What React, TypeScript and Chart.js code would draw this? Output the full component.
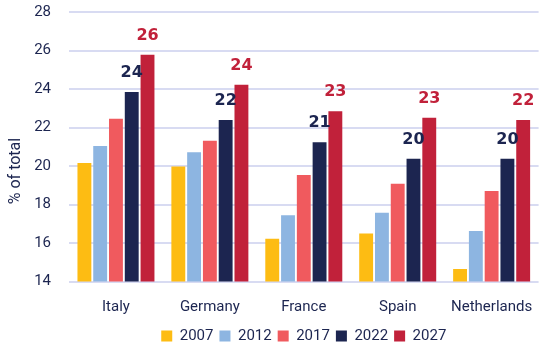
import React, { useEffect, useRef } from "react";
import { Chart, registerables } from "chart.js";

Chart.register(...registerables);

const categories = ["Italy", "Germany", "France", "Spain", "Netherlands"];
const years = ["2007", "2012", "2017", "2022", "2027"];
const values2007 = [20.16, 19.98, 16.22, 16.5, 14.65];
const values2012 = [21.04, 20.71, 17.44, 17.57, 16.62];
const values2017 = [22.46, 21.31, 19.53, 19.08, 18.7];
const values2022 = [23.84, 22.39, 21.23, 20.38, 20.38];
const values2027 = [25.78, 24.22, 22.84, 22.51, 22.39];
const labels2022 = ["24", "22", "21", "20", "20"];
const labels2027 = ["26", "24", "23", "23", "22"];
const colors = ["#FDBC13", "#8DB5E1", "#F05A5E", "#1C2550", "#C1213A"];
const NAVY = "#1C2550";
const yTitle = "% of total";

const barLabelPlugin = {
  id: "barLabels",
  afterDatasetsDraw(chart: any) {
    const ctx = chart.ctx;
    const sets: [number, string[], string][] = [
      [3, labels2022, NAVY],
      [4, labels2027, "#C1213A"],
    ];
    ctx.save();
    ctx.font = "bold 16px 'DejaVu Sans'";
    ctx.textAlign = "center";
    ctx.textBaseline = "middle";
    for (const [di, labs, col] of sets) {
      const meta = chart.getDatasetMeta(di);
      ctx.fillStyle = col;
      meta.data.forEach((bar: any, i: number) => {
        ctx.fillText(labs[i], bar.x, bar.y - 19);
      });
    }
    ctx.restore();
  },
};

const yTitlePlugin = {
  id: "yTitle",
  afterDraw(chart: any) {
    const ctx = chart.ctx;
    ctx.save();
    ctx.font = "16px Roboto";
    ctx.fillStyle = NAVY;
    ctx.textAlign = "center";
    ctx.textBaseline = "middle";
    ctx.translate(16, 171);
    ctx.rotate(-Math.PI / 2);
    ctx.fillText(yTitle, 0, 0);
    ctx.restore();
  },
};

export default function App() {
  const ref = useRef<HTMLCanvasElement>(null);
  useEffect(() => {
    document.body.style.margin = "0";
    const series = [values2007, values2012, values2017, values2022, values2027];
    const chart = new Chart(ref.current!, {
      type: "bar",
      data: {
        labels: categories,
        datasets: series.map((d, i) => ({
          label: years[i],
          data: d,
          backgroundColor: colors[i],
          borderWidth: 0,
          categoryPercentage: 0.84,
          barPercentage: 0.88,
        })),
      },
      options: {
        animation: false,
        responsive: false,
        layout: { padding: { left: 33, right: 8, top: 12, bottom: 2.5 } },
        plugins: {
          legend: {
            position: "bottom",
            fullSize: false,
            labels: {
              boxWidth: 11,
              boxHeight: 11,
              padding: 6,
              color: NAVY,
              font: { family: "Roboto", size: 15 },
            },
          },
          tooltip: { enabled: false },
        },
        scales: {
          x: {
            grid: { display: false, drawTicks: false },
            border: { display: false },
            ticks: { color: NAVY, padding: 17, font: { family: "Roboto", size: 15 } },
            afterFit: (s: any) => { s.height = 41; },
          },
          y: {
            min: 14,
            max: 28,
            grid: { color: "#D8DBF2", lineWidth: 2, drawTicks: false },
            border: { display: false },
            ticks: { stepSize: 2, color: NAVY, padding: 18, font: { family: "Roboto", size: 15 } },
            afterFit: (s: any) => { s.width = 36; s.paddingTop = 0; s.paddingBottom = 0; },
          },
        },
      },
      plugins: [barLabelPlugin, yTitlePlugin],
    });
    return () => chart.destroy();
  }, []);
  return <canvas ref={ref} width={550} height={356} />;
}
